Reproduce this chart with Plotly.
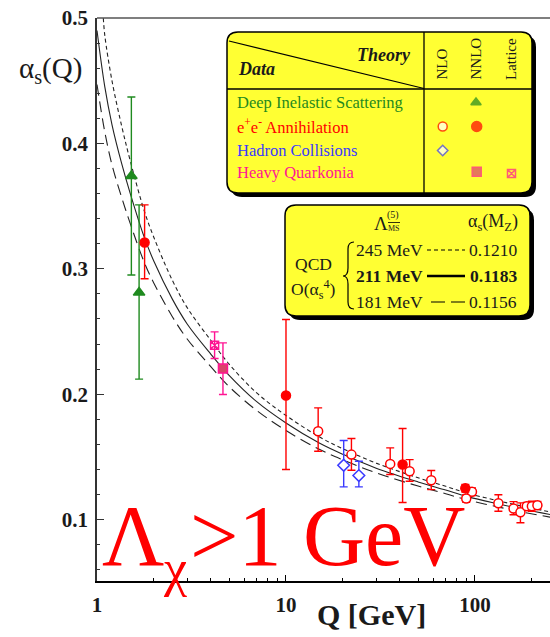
import plotly.graph_objects as go

# ---------------- data ----------------
# QCD running-coupling curves (Lambda_MSbar^(5) = 245, 211, 181 MeV)
Q_245 = [1.08, 1.1, 1.2, 1.35, 1.5, 1.78, 2.0, 2.5, 3.0, 4.0, 5.0, 7.0, 10, 15, 20, 30, 50, 70, 91.2, 130, 180, 250]
A_245 = [0.500, 0.486, 0.450, 0.414, 0.386, 0.346, 0.325, 0.291, 0.269, 0.243, 0.224, 0.201, 0.183, 0.166, 0.1565,
         0.145, 0.1333, 0.1265, 0.1210, 0.1153, 0.1105, 0.1061]
Q_211 = [1.0, 1.1, 1.2, 1.35, 1.5, 1.78, 2.0, 2.5, 3.0, 4.0, 5.0, 7.0, 10, 15, 20, 30, 50, 70, 91.2, 130, 180, 250]
A_211 = [0.490, 0.445, 0.415, 0.384, 0.360, 0.325, 0.306, 0.276, 0.256, 0.232, 0.215, 0.194, 0.177, 0.161, 0.152,
         0.141, 0.130, 0.1235, 0.1183, 0.1128, 0.1082, 0.1040]
Q_181 = [1.0, 1.1, 1.2, 1.35, 1.5, 1.78, 2.0, 2.5, 3.0, 4.0, 5.0, 7.0, 10, 15, 20, 30, 50, 70, 91.2, 130, 180, 250]
A_181 = [0.447, 0.409, 0.383, 0.357, 0.336, 0.305, 0.2885, 0.262, 0.244, 0.222, 0.206, 0.187, 0.171, 0.156, 0.1476,
         0.1372, 0.1267, 0.1206, 0.1156, 0.1103, 0.1059, 0.1019]

# Deep inelastic scattering, NNLO
DIS_Q = [1.52, 1.67]
DIS_A = [0.374, 0.281]
DIS_UP = [0.063, 0.070]
DIS_DN = [0.079, 0.069]

# e+e- annihilation, NNLO (filled)
EE2_Q = [1.786, 10.0, 41.4, 88.9]
EE2_A = [0.321, 0.199, 0.1439, 0.1250]
EE2_UP = [0.030, 0.0605, 0.0287, 0.003]
EE2_DN = [0.029, 0.0591, 0.0303, 0.003]

# e+e- annihilation, NLO (open)
EE1_Q = [14.8, 22.2, 35.6, 45.1, 58.7, 96.4, 89.9, 133, 160, 174, 188, 200, 214]
EE1_A = [0.1704, 0.1518, 0.1444, 0.1385, 0.1313, 0.1222, 0.1168, 0.1130, 0.1088, 0.1058, 0.1106, 0.1106, 0.1114]
EE1_UP = [0.0187, 0.0128, 0.0128, 0.0093, 0.0078, 0.003, 0.003, 0.0068, 0.0055, 0.0075, 0.003, 0.004, 0.003]
EE1_DN = [0.0159, 0.0125, 0.0085, 0.0079, 0.0074, 0.003, 0.003, 0.0064, 0.0050, 0.0084, 0.003, 0.004, 0.003]

# Hadron collisions, NLO
HC_Q = [20.2, 24.3]
HC_A = [0.1433, 0.1351]
HC_UP = [0.0197, 0.0114]
HC_DN = [0.0172, 0.0090]

# Heavy quarkonia, NNLO and lattice
HQ_Q = [4.64]
HQ_A = [0.2204]
HQ_UP = [0.0205]
HQ_DN = [0.0207]
LAT_Q = [4.19]
LAT_A = [0.239]
LAT_UP = [0.0107]
LAT_DN = [0.0106]

Y_TICKS = [0.1, 0.2, 0.3, 0.4, 0.5]
Y_TICK_TEXT = ["0.1", "0.2", "0.3", "0.4", "0.5"]
X_TICKS = [1, 10, 100]
X_TICK_TEXT = ["1", "10", "100"]
X_MINOR = [2, 3, 4, 5, 6, 7, 8, 9, 20, 30, 40, 50, 60, 70, 80, 90, 200]

LEG_ROWS = ["Deep Inelastic Scattering", "e<sup>+</sup>e<sup>-</sup> Annihilation", "Hadron Collisions", "Heavy Quarkonia"]
LEG_COLS = ["NLO", "NNLO", "Lattice"]
QCD_LAMBDA = ["245 MeV", "211 MeV", "181 MeV"]
QCD_ALPHA = ["0.1210", "0.1183", "0.1156"]

# ---------------- styling ----------------
W, H = 550, 637
ML, MR, MT, MB = 97, 0, 18, 56
SERIF = "Liberation Serif"
GREEN = "#1f8a1f"
RED = "#ff0000"
BLUE = "#3a3aff"
PINK = "#ff1493"
SQFILL = "#d9436a"
YELLOW = "#ffff33"
INK = "#1a1a1a"


def pxx(x):
    return (x - ML) / (W - ML - MR)


def pxy(y):
    return (H - MB - y) / (H - MT - MB)


fig = go.Figure()

# curves
fig.add_trace(go.Scatter(x=Q_245, y=A_245, mode="lines", line=dict(color="#222", width=1.1, dash="4px,3px", shape="spline"),
                         showlegend=False, hoverinfo="skip"))
fig.add_trace(go.Scatter(x=Q_211, y=A_211, mode="lines", line=dict(color="#222", width=1.1, shape="spline"),
                         showlegend=False, hoverinfo="skip"))
fig.add_trace(go.Scatter(x=Q_181, y=A_181, mode="lines", line=dict(color="#222", width=1.1, dash="11px,6px", shape="spline"),
                         showlegend=False, hoverinfo="skip"))


def pts(q, a, up, dn, color, symbol, size, fill, lw=1.5):
    fig.add_trace(go.Scatter(
        x=q, y=a, mode="markers",
        error_y=dict(type="data", symmetric=False, array=up, arrayminus=dn, color=color, thickness=1.4, width=4),
        marker=dict(symbol=symbol, size=size, color=fill, line=dict(color=color, width=lw)),
        showlegend=False))


pts(DIS_Q, DIS_A, DIS_UP, DIS_DN, GREEN, "triangle-up", 10, GREEN)
pts(HQ_Q, HQ_A, HQ_UP, HQ_DN, PINK, "square", 9, SQFILL)
pts(LAT_Q, LAT_A, LAT_UP, LAT_DN, PINK, "square-x-open", 8, PINK)
pts(HC_Q, HC_A, HC_UP, HC_DN, BLUE, "diamond", 9, "white")
pts(EE1_Q, EE1_A, EE1_UP, EE1_DN, RED, "circle", 9, "white")
pts(EE2_Q, EE2_A, EE2_UP, EE2_DN, RED, "circle", 9, RED)

# legend key symbols (pixel overlay axes)
KEY_X = [476, 442.7, 476.7, 442.7, 476.7, 511.5]
KEY_Y = [102.5, 126.5, 126.5, 150.5, 171.7, 173.5]
fig.add_trace(go.Scatter(
    x=KEY_X, y=KEY_Y, xaxis="x2", yaxis="y2", mode="markers", showlegend=False, hoverinfo="skip",
    marker=dict(symbol=["triangle-up", "circle", "circle", "diamond", "square", "square-x-open"],
                size=[9, 9, 10, 8, 9, 8],
                color=[GREEN, "white", RED, "white", SQFILL, PINK],
                line=dict(color=[GREEN, RED, RED, BLUE, PINK, PINK], width=1.5))))


def rrect(x0, y0, x1, y1, r):
    return (f"M{x0+r},{y0} L{x1-r},{y0} Q{x1},{y0} {x1},{y0+r} L{x1},{y1-r} Q{x1},{y1} {x1-r},{y1} "
            f"L{x0+r},{y1} Q{x0},{y1} {x0},{y1-r} L{x0},{y0+r} Q{x0},{y0} {x0+r},{y0} Z")


shapes = []


def box(x0, y0, x1, y1, r):
    shapes.append(dict(type="path", xref="x2", yref="y2", path=rrect(x0 + 4, y0 + 4, x1 + 4, y1 + 4, r),
                       fillcolor="black", line=dict(width=0), layer="below"))
    shapes.append(dict(type="path", xref="x2", yref="y2", path=rrect(x0, y0, x1, y1, r),
                       fillcolor=YELLOW, line=dict(color="black", width=1.5), layer="below"))


def seg(x0, y0, x1, y1, w=1.3, dash="solid", color="black"):
    shapes.append(dict(type="line", xref="x2", yref="y2", x0=x0, y0=y0, x1=x1, y1=y1,
                       line=dict(color=color, width=w, dash=dash)))


box(227, 32, 532, 193, 11)
seg(227, 89, 532, 89)
seg(424, 32, 424, 193)
seg(229, 41, 424, 88.5, w=1.2)
box(285, 205, 530, 316, 11)
seg(427, 250, 465, 250, w=1.2, dash="4px,3px")
seg(427, 276, 465, 276, w=2.5)
seg(431, 302, 467, 302, w=1.2, dash="14px,6px")
seg(388, 222.5, 400, 222.5, w=0.8)
# brace
shapes.append(dict(type="path", xref="x2", yref="y2", line=dict(color="black", width=1.2),
                   path="M354,242 Q348,242 348,249 L348,268 Q348,276 343,276 Q348,276 348,284 L348,302 Q348,309 354,309"))
# top frame
shapes.append(dict(type="line", xref="paper", yref="paper", x0=0, x1=1, y0=1, y1=1,
                   line=dict(color="#555", width=1.5)))

ann = []


def t(x, y, text, size=16, color=INK, xanchor="center", yanchor="middle", angle=0, ref="x2"):
    d = dict(x=x, y=y, text=text, showarrow=False, xanchor=xanchor, yanchor=yanchor, textangle=angle,
             font=dict(family=SERIF, size=size, color=color))
    if ref == "x2":
        d.update(xref="x2", yref="y2")
    else:
        d.update(xref="paper", yref="paper", x=pxx(x), y=pxy(y))
    ann.append(d)


# legend box 1
t(413, 54.5, "<b><i>Theory</i></b>", 18, xanchor="right")
t(236, 69, "<b><i>Data</i></b>", 18, xanchor="left")
for cx, name in zip([441, 475.5, 511], LEG_COLS):
    t(cx, 82, name, 15, angle=-90, yanchor="bottom")
for yy, name, col in zip([102.5, 126.5, 150.5, 172], LEG_ROWS, [GREEN, RED, BLUE, PINK]):
    t(235, yy, name, 16.5, col, xanchor="left")

# box 2
t(381, 223, "Λ", 19)
t(393, 215, "(5)", 10)
t(394, 228, "MS", 8)
t(493, 222, "α<sub>s</sub>(M<sub>Z</sub>)", 18)
t(313, 264, "QCD", 17.5)
t(313, 289, "O(α<sub>s</sub><sup>4</sup>)", 17.5)
for yy, lam, al, bold in zip([250, 276, 302], QCD_LAMBDA, QCD_ALPHA, [False, True, False]):
    s1 = f"<b>{lam}</b>" if bold else lam
    s2 = f"<b>{al}</b>" if bold else al
    t(354, yy, s1, 17.5, xanchor="left")
    t(519, yy, s2, 17.5, xanchor="right")

# axis titles
t(50, 70, "α<sub>s</sub>(Q)", 29, ref="paper")
t(371, 614, "<b>Q [GeV]</b>", 30, ref="paper")

# big red text
t(100, 536, "Λ", 86, RED, xanchor="left", ref="paper")
t(161, 568, "χ", 52, RED, xanchor="left", ref="paper")
t(188, 536, "&gt;1 GeV", 86, RED, xanchor="left", ref="paper")

fig.update_layout(
    width=W, height=H, margin=dict(l=ML, r=MR, t=MT, b=MB, pad=0),
    paper_bgcolor="white", plot_bgcolor="white", showlegend=False,
    shapes=shapes, annotations=ann,
    xaxis=dict(type="log", range=[0, 2.397], showgrid=False, zeroline=False,
               showline=True, linecolor="black", linewidth=2.2,
               ticks="inside", ticklen=6, tickwidth=1.2, tickcolor="black",
               tickmode="array", tickvals=X_TICKS, ticktext=[f"<b>{s}</b>" for s in X_TICK_TEXT],
               tickfont=dict(family=SERIF, size=21, color=INK), ticklabelstandoff=4,
               minor=dict(tickmode="array", tickvals=X_MINOR, ticks="inside", ticklen=3, tickcolor="black", tickwidth=1)),
    yaxis=dict(range=[0.051, 0.5], showgrid=False, zeroline=False,
               showline=True, linecolor="#333", linewidth=1.5,
               ticks="inside", ticklen=7, tickwidth=1.2, tickcolor="#333",
               tickmode="array", tickvals=Y_TICKS, ticktext=[f"<b>{s}</b>" for s in Y_TICK_TEXT],
               tickfont=dict(family=SERIF, size=21, color=INK), ticklabelstandoff=3,
               minor=dict(tickmode="linear", tick0=0, dtick=0.02, ticks="inside", ticklen=3, tickcolor="#333", tickwidth=1)),
    xaxis2=dict(overlaying="x", anchor="y2", range=[ML, W - MR], visible=False, showticklabels=False, fixedrange=True),
    yaxis2=dict(overlaying="y", anchor="x2", range=[H - MB, MT], visible=False, showticklabels=False, fixedrange=True),
    yaxis3=dict(overlaying="y", side="right", anchor="free", position=1, range=[0.051, 0.5],
                tickmode="array", tickvals=Y_TICKS, ticks="inside", ticklen=6, tickcolor="#333",
                showticklabels=False, showline=False, showgrid=False, zeroline=False),
)

fig.write_html("out.html", config={"displayModeBar": False},
               post_script="document.body.style.margin='0px';document.body.style.overflow='hidden';")
